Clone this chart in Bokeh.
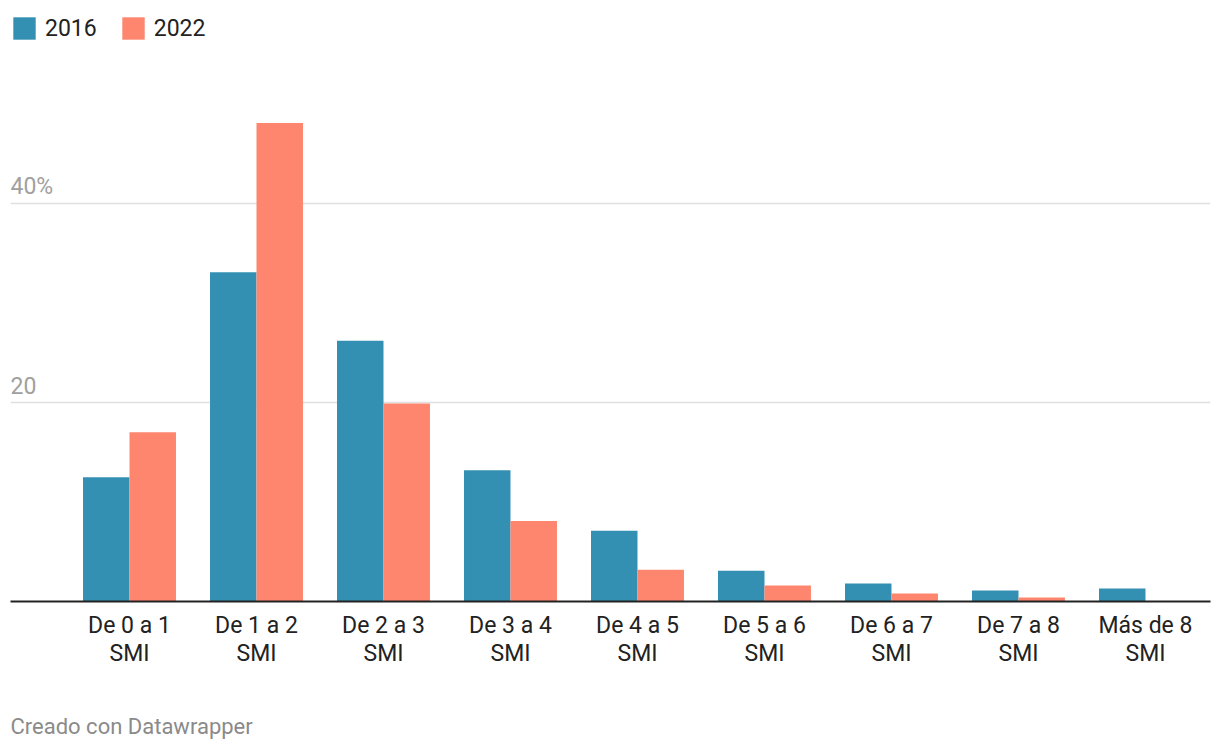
from bokeh.plotting import figure
from bokeh.models import (ColumnDataSource, Range1d, FixedTicker, Legend, LegendItem, Title)
from bokeh.transform import dodge
from bokeh.core.properties import value
from bokeh.embed import file_html
from bokeh.resources import INLINE

categories = ["De 0 a 1\nSMI", "De 1 a 2\nSMI", "De 2 a 3\nSMI", "De 3 a 4\nSMI",
              "De 4 a 5\nSMI", "De 5 a 6\nSMI", "De 6 a 7\nSMI", "De 7 a 8\nSMI",
              "Más de 8\nSMI"]
v2016 = [12.5, 33.1, 26.2, 13.2, 7.1, 3.1, 1.8, 1.1, 1.3]
v2022 = [17.0, 48.1, 19.9, 8.1, 3.2, 1.6, 0.8, 0.4, 0.0]
series_names = ["2016", "2022"]
y_ticks = [20, 40]
y_tick_labels = ["20", "40%"]

C2016 = "#3490b3"
C2022 = "#fe866f"
FONT = "Roboto"

idx = list(range(len(categories)))
src = ColumnDataSource(dict(x=idx, a=v2016, b=v2022))

x0, x1 = -0.937, 8.512
p = figure(frame_width=1200, frame_height=587, output_backend="svg", toolbar_location=None,
           x_range=Range1d(x0, x1), y_range=Range1d(0, 59.0),
           min_border_left=10, min_border_right=2, min_border_top=14, min_border_bottom=10)
p.outline_line_color = None
p.background_fill_color = "white"

bw = 0.366
r1 = p.vbar(x=dodge("x", -bw / 2), top="a", width=bw, source=src,
            fill_color=C2016, line_color=None)
r2 = p.vbar(x=dodge("x", bw / 2), top="b", width=bw, source=src,
            fill_color=C2022, line_color=None)

# grid
p.xgrid.visible = False
p.ygrid.ticker = FixedTicker(ticks=y_ticks)
p.ygrid.grid_line_color = "#e0e0e0"
p.ygrid.grid_line_width = 1.5
p.yaxis.visible = False

# y tick labels inside plot
lab_src = ColumnDataSource(dict(x=[x0] * len(y_ticks), y=y_ticks, t=y_tick_labels))
p.text(x="x", y="y", text="t", source=lab_src, text_font=value(FONT),
       text_font_size="23px", text_color="#a0a0a0", text_baseline="alphabetic",
       text_align="left", y_offset=-17)

# x axis
ax = p.xaxis[0]
ax.ticker = FixedTicker(ticks=idx)
ax.major_label_overrides = {i: c for i, c in zip(idx, categories)}
ax.axis_line_color = "#222222"
ax.axis_line_width = 2
ax.major_tick_line_color = None
ax.minor_tick_line_color = None
ax.major_label_text_font = FONT
ax.major_label_text_font_size = "23px"
ax.major_label_text_color = "#222222"
ax.major_label_text_line_height = 1.04
ax.major_label_standoff = 4

# legend
legend = Legend(items=[LegendItem(label=series_names[0], renderers=[r1]),
                       LegendItem(label=series_names[1], renderers=[r2])],
                location="top_left", orientation="horizontal",
                margin=0, padding=0, spacing=22,
                glyph_width=28, glyph_height=28, label_height=28,
                label_standoff=7, label_text_font=FONT, label_text_font_size="23px",
                label_text_color="#222222", background_fill_alpha=0,
                border_line_color=None)
p.add_layout(legend, "center")

footer = Title(text="Creado con Datawrapper", align="left", text_font=FONT,
               text_font_size="22px", text_color="#8a8a8a", text_font_style="normal",
               standoff=85)
p.add_layout(footer, "below")

open("out.html", "w").write(file_html(p, INLINE))
